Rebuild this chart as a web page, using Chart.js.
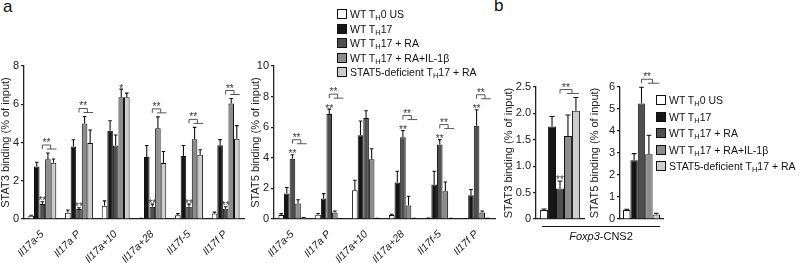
<!DOCTYPE html>
<html><head><meta charset="utf-8">
<script src="https://cdn.jsdelivr.net/npm/chart.js@4"></script>
<style>
html,body{margin:0;padding:0;background:#fff;}
body{width:800px;height:263px;position:relative;overflow:hidden;font-family:"Liberation Sans",Arial,sans-serif;color:#111;}
.box{position:absolute;top:0;height:263px;}
.letter{position:absolute;font-size:17px;line-height:17px;}
.legend{position:absolute;font-size:10.5px;}
.legend .row{position:absolute;left:0;white-space:nowrap;height:14px;line-height:14px;}
.legend .sw{position:absolute;left:0;top:2px;width:8px;height:8px;border:1px solid #111;}
.legend .tx{position:absolute;left:13px;top:0;}
sub{font-size:7.5px;vertical-align:-2px;line-height:0;}
#cnsline{position:absolute;left:542px;top:226px;width:118px;height:1px;background:#111;}
#cnslabel{position:absolute;left:551px;width:100px;text-align:center;top:230px;font-size:11px;}
</style></head>
<body>
<div class="letter" style="left:3px;top:-2px;">a</div>
<div class="letter" style="left:494px;top:-3px;">b</div>
<div class="box" style="left:0px;width:252px;"><canvas id="c1"></canvas></div>
<div class="box" style="left:250px;width:252px;"><canvas id="c2"></canvas></div>
<div class="box" style="left:503px;width:84px;"><canvas id="c3"></canvas></div>
<div class="box" style="left:589px;width:77px;"><canvas id="c4"></canvas></div>
<div id="legA" class="legend" style="left:337px;top:7px;"></div>
<div id="legB" class="legend" style="left:656px;top:93px;"></div>
<div id="cnsline"></div>
<div id="cnslabel"><i>Foxp3</i>-CNS2</div>
<script>
// ---------- data ----------
const seriesNames = ['WT T<sub>H</sub>0 US','WT T<sub>H</sub>17','WT T<sub>H</sub>17 + RA','WT T<sub>H</sub>17 + RA+IL-1\u03b2','STAT5-deficient T<sub>H</sub>17 + RA'];
const seriesColors = ['#ffffff','#151515','#4f4f4f','#8c8c8c','#cdcdcd'];

const lociA = ['Il17a-5','Il17a P','Il17a+10','Il17a+28','Il17f-5','Il17f P'];
const lociB = ['Foxp3-CNS2'];

// Panel a, STAT3 binding (% of input)
const stat3A_th0    = [0.17, 0.33, 0.69, 0.03, 0.20, 0.29];
const stat3A_th0Err = [0.03, 0.14, 0.26, 0.01, 0.08, 0.07];
const stat3A_th17    = [2.75, 3.79, 4.62, 3.24, 3.29, 3.86];
const stat3A_th17Err = [0.22, 0.35, 0.52, 0.60, 0.55, 0.29];
const stat3A_ra    = [0.78, 0.52, 3.84, 0.64, 0.64, 0.54];
const stat3A_raErr = [0.12, 0.07, 0.55, 0.14, 0.14, 0.10];
const stat3A_raIl1    = [3.12, 5.00, 6.36, 4.74, 4.17, 6.04];
const stat3A_raIl1Err = [0.33, 0.36, 0.43, 0.60, 0.62, 0.26];
const stat3A_s5def    = [2.94, 3.98, 6.36, 2.93, 3.36, 4.19];
const stat3A_s5defErr = [0.20, 0.67, 0.22, 0.60, 0.26, 0.69];

// Panel a, STAT5 binding (% of input)
const stat5A_th0    = [0.26, 0.28, 1.88, 0.26, 0.04, 0.02];
const stat5A_th0Err = [0.09, 0.08, 0.65, 0.05, 0.02, 0.01];
const stat5A_th17    = [1.67, 1.34, 5.48, 2.38, 2.25, 1.56];
const stat5A_th17Err = [0.39, 0.32, 0.93, 0.74, 0.87, 0.37];
const stat5A_ra    = [3.94, 6.86, 6.60, 5.35, 4.87, 6.10];
const stat5A_raErr = [0.26, 0.32, 0.48, 0.43, 0.32, 1.04];
const stat5A_raIl1    = [1.02, 0.43, 3.90, 0.89, 1.82, 0.43];
const stat5A_raIl1Err = [0.24, 0.09, 0.69, 0.60, 0.60, 0.09];
const stat5A_s5def    = [0.09, 0.02, 0.04, 0.04, 0.04, 0.04];
const stat5A_s5defErr = [0.01, 0.01, 0.01, 0.01, 0.01, 0.01];

// Panel b, Foxp3-CNS2
const stat3B    = [0.17, 1.75, 0.58, 1.57, 2.05];
const stat3BErr = [0.02, 0.19, 0.14, 0.40, 0.25];
const stat5B    = [0.41, 2.67, 5.25, 2.94, 0.20];
const stat5BErr = [0.03, 0.30, 0.74, 0.87, 0.06];

// y tick labels
const yTicks3A = [0, 2, 4, 6, 8];
const yTicks5A = [0, 2, 4, 6, 8, 10];
const yTicks3B = [0, 0.5, 1.0, 1.5, 2.0, 2.5];
const yTicks5B = [0, 1, 2, 3, 4, 5, 6];

// significance annotations (group indices)
const sig3A_brackets = [0, 1, 3, 4, 5];
const sig3A_raStars  = [0, 1, 3, 4, 5];
const sig3A_il1Star  = [2];
const sig5A_brackets = [0, 1, 3, 4, 5];
const sig5A_raStars  = [0, 1, 3, 4, 5];
const sig3B_brackets = [0];
const sig3B_raStars  = [0];
const sig5B_brackets = [0];
const sig5B_raStars  = [];

// ---------- legends ----------
function buildLegend(id, spacing) {
  const el = document.getElementById(id);
  seriesNames.forEach((n, i) => {
    const r = document.createElement('div');
    r.className = 'row';
    r.style.top = (i * spacing) + 'px';
    r.innerHTML = '<span class="sw" style="background:' + seriesColors[i] + '"></span><span class="tx">' + n + '</span>';
    el.appendChild(r);
  });
}
buildLegend('legA', 14.5);
buildLegend('legB', 16.5);

// ---------- plugin: error bars + significance ----------
const annot = {
  id: 'annot',
  afterDatasetsDraw(chart, args, opts) {
    const ctx = chart.ctx, ys = chart.scales.y;
    const dsets = chart.data.datasets;
    const errTop = (i, j) => ys.getPixelForValue(dsets[i].data[j] + (dsets[i].errs[j] || 0));
    const el = (i, j) => chart.getDatasetMeta(i).data[j];
    ctx.save();
    ctx.strokeStyle = '#111'; ctx.lineWidth = 1.1;
    dsets.forEach((ds, i) => {
      chart.getDatasetMeta(i).data.forEach((b, j) => {
        const e = ds.errs[j]; if (!e) return;
        const yT = errTop(i, j), hw = b.width * 0.32;
        ctx.beginPath();
        ctx.moveTo(b.x, b.y); ctx.lineTo(b.x, yT);
        ctx.moveTo(b.x - hw, yT); ctx.lineTo(b.x + hw, yT);
        ctx.stroke();
      });
    });
    ctx.fillStyle = '#333';
    ctx.font = '10px "Liberation Sans", Arial, sans-serif';
    ctx.textAlign = 'center'; ctx.textBaseline = 'alphabetic';
    const raStars = opts.raStars || [], il1Star = opts.il1Star || [], brackets = opts.brackets || [];
    raStars.forEach(j => { ctx.fillText('**', el(2, j).x, errTop(2, j) + 2.5); });
    il1Star.forEach(j => { ctx.fillText('*', el(3, j).x, errTop(3, j) + 2.5); });
    ctx.strokeStyle = '#444'; ctx.lineWidth = 0.9;
    brackets.forEach(j => {
      const xd = el(2, j).x, xm = el(3, j).x, xl = el(4, j).x;
      let top = Math.min(errTop(2, j), errTop(3, j), errTop(4, j));
      if (raStars.includes(j) && errTop(2, j) <= top + 1) top -= 7;
      const yB = top - 8, xc = (xm + xl) / 2;
      ctx.beginPath();
      ctx.moveTo(xd, yB + 4); ctx.lineTo(xd, yB); ctx.lineTo(xc, yB); ctx.lineTo(xc, yB + 4);
      ctx.moveTo(xm - 1, yB + 4); ctx.lineTo(xl + 3, yB + 4);
      ctx.stroke();
      ctx.fillText('**', (xd + xc) / 2, yB + 1);
    });
    ctx.restore();
  }
};

const FONT = '"Liberation Sans", Arial, sans-serif';

function makeChart(id, labels, vals, errs, yTicks, yTitle, cfg) {
  const datasets = vals.map((v, i) => ({
    label: seriesNames[i].replace(/<[^>]+>/g, ''),
    data: v, errs: errs[i],
    backgroundColor: seriesColors[i], borderColor: '#111', borderWidth: 1,
    categoryPercentage: cfg.catPct, barPercentage: 1.0
  }));
  return new Chart(document.getElementById(id), {
    type: 'bar',
    data: { labels: labels, datasets: datasets },
    plugins: [annot],
    options: {
      responsive: true, maintainAspectRatio: false, animation: false,
      layout: { padding: { left: 0, right: cfg.padR, top: cfg.padT, bottom: 0 } },
      plugins: { legend: { display: false }, tooltip: { enabled: false },
        annot: cfg.sig },
      scales: {
        x: {
          grid: { display: false },
          border: { display: true, color: '#222', width: 1.3 },
          ticks: { display: cfg.showX, autoSkip: false, minRotation: 45, maxRotation: 45, padding: 1,
            color: '#222', font: { family: FONT, size: 10.5, style: 'italic' } },
          afterFit: s => { s.height = cfg.xH; }
        },
        y: {
          min: 0, max: yTicks[yTicks.length - 1],
          afterBuildTicks: s => { s.ticks = yTicks.map(v => ({ value: v })); },
          grid: { display: true, drawOnChartArea: false, drawTicks: true, tickLength: 3, color: '#222', lineWidth: 1.2 },
          border: { display: true, color: '#222', width: 1.3 },
          ticks: { padding: 2, color: '#222', font: { family: FONT, size: 11 },
            callback: v => cfg.dec ? (v === 0 ? '0' : v.toFixed(1)) : String(v) },
          title: { display: true, text: yTitle, color: '#222', padding: 0,
            font: { family: FONT, size: 11, lineHeight: 1 } },
          afterFit: s => { s.width = cfg.yW; }
        }
      }
    }
  });
}

makeChart('c1', lociA,
  [stat3A_th0, stat3A_th17, stat3A_ra, stat3A_raIl1, stat3A_s5def],
  [stat3A_th0Err, stat3A_th17Err, stat3A_raErr, stat3A_raIl1Err, stat3A_s5defErr],
  yTicks3A, 'STAT3 binding (% of input)',
  { padR: 8, padT: 66, xH: 44, yW: 24, catPct: 0.76, showX: true, dec: false,
    sig: { brackets: sig3A_brackets, raStars: sig3A_raStars, il1Star: sig3A_il1Star } });

makeChart('c2', lociA,
  [stat5A_th0, stat5A_th17, stat5A_ra, stat5A_raIl1, stat5A_s5def],
  [stat5A_th0Err, stat5A_th17Err, stat5A_raErr, stat5A_raIl1Err, stat5A_s5defErr],
  yTicks5A, 'STAT5 binding (% of input)',
  { padR: 7, padT: 66, xH: 44, yW: 24, catPct: 0.76, showX: true, dec: false,
    sig: { brackets: sig5A_brackets, raStars: sig5A_raStars } });

makeChart('c3', lociB,
  stat3B.map(v => [v]), stat3BErr.map(v => [v]),
  yTicks3B, 'STAT3 binding (% of input)',
  { padR: 3, padT: 87, xH: 44, yW: 33, catPct: 0.83, showX: false, dec: true,
    sig: { brackets: sig3B_brackets, raStars: sig3B_raStars } });

makeChart('c4', lociB,
  stat5B.map(v => [v]), stat5BErr.map(v => [v]),
  yTicks5B, 'STAT5 binding (% of input)',
  { padR: 3, padT: 87, xH: 44, yW: 31, catPct: 0.86, showX: false, dec: false,
    sig: { brackets: sig5B_brackets, raStars: sig5B_raStars } });
</script>
</body></html>
